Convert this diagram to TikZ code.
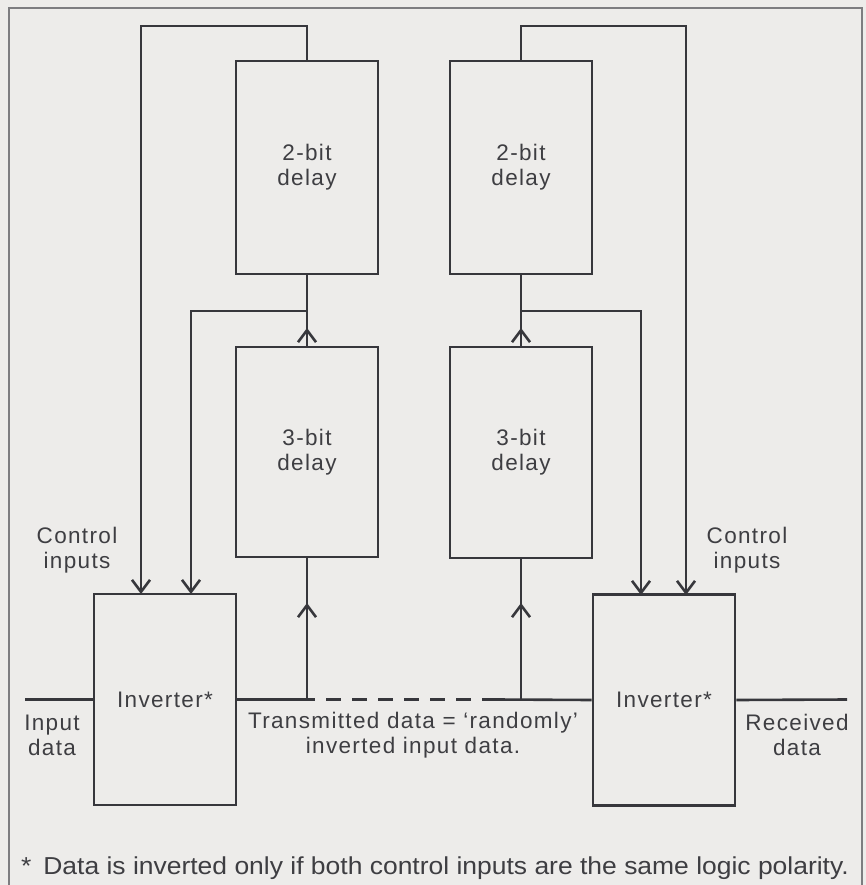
\documentclass[tikz,border=0pt]{standalone}
\usepackage{fontspec}
\setmainfont{Liberation Sans}
\newfontfamily\lblfont{Liberation Sans}[LetterSpace=6]
\usetikzlibrary{arrows.meta}
\definecolor{bg}{RGB}{237,236,234}
\definecolor{ink}{RGB}{55,55,60}
\definecolor{txt}{RGB}{62,62,66}
\definecolor{framec}{RGB}{125,125,128}
\tikzset{
  wire/.style={draw=ink, line width=2.6pt},
  arr/.style={wire, -{Straight Barb[length=12pt,width=18pt,line width=2.6pt]}},
  blockbox/.style={draw=ink, line width=2.6pt, inner sep=0pt, minimum width=142pt,
    text=txt, align=center, font=\lblfont\fontsize{22.5}{25}\selectfont},
  lbl/.style={inner sep=0pt, text=txt, align=center, font=\lblfont\fontsize{22.5}{25}\selectfont},
}
\begin{document}
\begin{tikzpicture}[x=1pt,y=-1pt]
\fill[bg] (0,0) rectangle (866,885);
\useasboundingbox (0,0) rectangle (866,885);
% frame
\draw[framec, line width=1.4pt] (9,885) -- (9,8) -- (862,8) -- (862,885);

% blocks
\node[blockbox, minimum height=213pt] (d2L) at (307,167.5) {2-bit\\delay};
\node[blockbox, minimum height=210pt] (d3L) at (307,452) {3-bit\\delay};
\node[blockbox, minimum height=213pt] (d2R) at (521,167.5) {2-bit\\delay};
\node[blockbox, minimum height=211pt] (d3R) at (521,452.5) {3-bit\\delay};
\node[blockbox, minimum height=211pt] (invL) at (165,699.5) {Inverter*};
\node[blockbox, minimum height=211pt] (invR) at (664,700) {Inverter*};

% labels
\node[lbl] (ctlL) at (77,550) {Control\\inputs};
\node[lbl] (ctlR) at (747,550) {Control\\inputs};
\node[lbl] (inL) at (52,735) {Input\\data};
\node[lbl] (rcv) at (797,735) {Received\\data};
\node[lbl] (tx) at (413,735) {Transmitted data = ‘randomly’\\inverted input data.};
\node[anchor=west, inner sep=0pt, text=txt] (foot) at (21,868)
  {\scalebox{1.08}[1]{\fontsize{24.5}{26}\selectfont *\hspace{11pt}Data is inverted only if both control inputs are the same logic polarity.}};

% coordinates
\coordinate (loopL) at (141,26);
\coordinate (loopR) at (686,26);
\coordinate (iL1) at (141,594);
\coordinate (iL2) at (191,594);
\coordinate (iR1) at (641,595);
\coordinate (iR2) at (686,595);
\coordinate (brL) at (307,311);
\coordinate (brR) at (521,311);
\coordinate (amL) at (307,328);
\coordinate (amR) at (521,328);
\coordinate (abL) at (307,603);
\coordinate (abR) at (521,603);
\coordinate (tapL) at (307,699.5);
\coordinate (tapR) at (521,699.5);
\coordinate (ds1) at (315,699.5);
\coordinate (ds2) at (497,699.5);
\coordinate (inEnd) at (25,699.5);
\coordinate (outEnd) at (847,699.5);

% outer feedback loops
\draw[arr] (d2L.north) |- (loopL) -- (iL1);
\draw[arr] (d2R.north) |- (loopR) -- (iR2);
% 3-bit to 2-bit
\draw[wire] (d3L.north) -- (d2L.south);
\draw[arr] (d3L.north) -- (amL);
\draw[wire] (d3R.north) -- (d2R.south);
\draw[arr] (d3R.north) -- (amR);
% branches to inverters
\draw[arr] (brL) -| (iL2);
\draw[arr] (brR) -| (iR1);
% data line
\draw[wire] (inEnd) -- (invL.west);
\draw[wire] (invL.east) -- (ds1);
\draw[wire, dash pattern=on 15pt off 11pt] (ds1) ++(11,0) -- (ds2);
\draw[wire] (ds2) -- (invR.west);
\draw[wire] (invR.east) -- (outEnd);
% taps into 3-bit delays
\draw[wire] (tapL) -- (d3L.south);
\draw[arr] (tapL) -- (abL);
\draw[wire] (tapR) -- (d3R.south);
\draw[arr] (tapR) -- (abR);
\end{tikzpicture}
\end{document}
